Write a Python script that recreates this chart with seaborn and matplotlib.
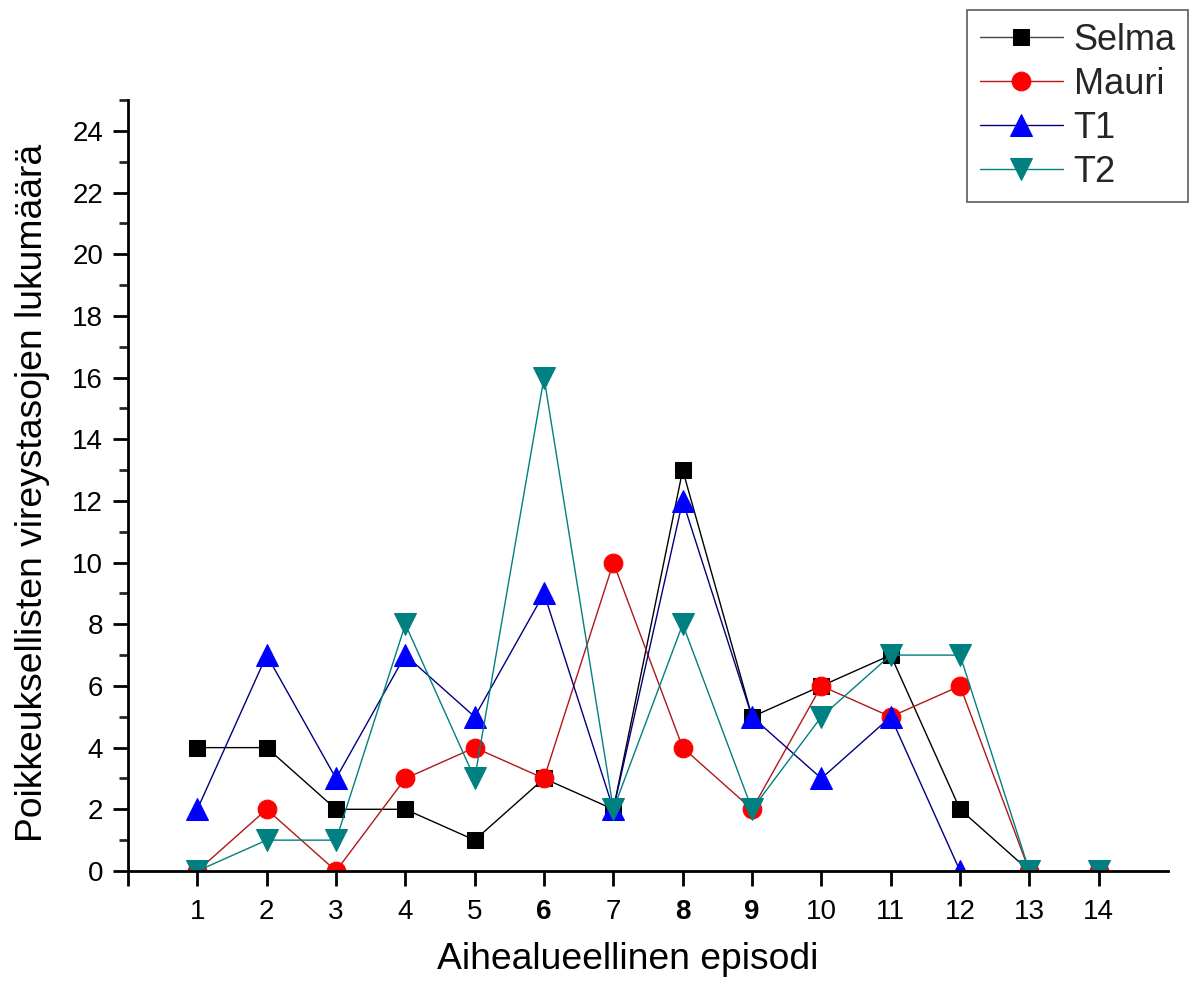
import matplotlib
matplotlib.use("Agg")
import matplotlib.pyplot as plt
import seaborn as sns
import pandas as pd
from matplotlib.ticker import MultipleLocator

episodes = list(range(1, 15))
selma = [4, 4, 2, 2, 1, 3, 2, 13, 5, 6, 7, 2, 0, 0]
mauri = [0, 2, 0, 3, 4, 3, 10, 4, 2, 6, 5, 6, 0, 0]
t1 = [2, 7, 3, 7, 5, 9, 2, 12, 5, 3, 5, 0, 0, 0]
t2 = [0, 1, 1, 8, 3, 16, 2, 8, 2, 5, 7, 7, 0, 0]
series_names = ["Selma", "Mauri", "T1", "T2"]
bold_ticks = [6, 8, 9]
xlabel = "Aihealueellinen episodi"
ylabel = "Poikkeuksellisten vireystasojen lukumäärä"

sns.set_theme(style="white")
plt.rcParams['font.family'] = ['Liberation Sans', 'DejaVu Sans']

fig = plt.figure(figsize=(11.92, 9.92), dpi=100)
ax = fig.add_axes([0.1074, 0.1220, 0.8725, 0.7772])

styles = [
    dict(marker="s", color="#000000", mfc="#000000", ms=12),
    dict(marker="o", color="#B01818", mfc="#FF0000", ms=13.5),
    dict(marker="^", color="#000080", mfc="#0000FF", ms=16),
    dict(marker="v", color="#008080", mfc="#008080", ms=15.5),
]
data = [selma, mauri, t1, t2]
for name, vals, st in zip(series_names, data, styles):
    df = pd.DataFrame({"x": episodes, "y": vals})
    sns.lineplot(data=df, x="x", y="y", ax=ax, color=st["color"], marker=st["marker"],
                 markerfacecolor=st["mfc"], markeredgecolor=st["mfc"],
                 markersize=st["ms"], linewidth=1.0, label=name, legend=False)

ax.set_xlim(0, 15)
ax.set_ylim(0, 25)
ax.set_xticks(range(0, 15))
ax.set_xticklabels([""] + [str(e) for e in episodes])
for lbl, e in zip(ax.get_xticklabels()[1:], episodes):
    if e in bold_ticks:
        lbl.set_fontweight("bold")
ax.yaxis.set_major_locator(MultipleLocator(2))
ax.yaxis.set_minor_locator(MultipleLocator(1))
ax.tick_params(axis="both", which="major", direction="out", length=11, width=2,
               labelsize=20, color="black", labelcolor="black", bottom=True, left=True)
ax.tick_params(axis="y", which="minor", direction="out", length=6.5, width=2, left=True)
ax.tick_params(axis="x", pad=9)
ax.tick_params(axis="y", pad=7)

for s in ["top", "right"]:
    ax.spines[s].set_visible(False)
for s in ["left", "bottom"]:
    ax.spines[s].set_color("black")
    ax.spines[s].set_linewidth(2)

ax.set_xlabel(xlabel, fontsize=26.8, color="black")
ax.set_ylabel(ylabel, fontsize=26.8, color="black")
ax.xaxis.label.set_va("baseline")
ax.xaxis.set_label_coords(0.48, -0.127)
ax.yaxis.set_label_coords(-0.075, 0.49)

handles, labels = ax.get_legend_handles_labels()
leg = fig.legend(handles, labels, loc="upper right", bbox_to_anchor=(0.997, 0.990),
                 fontsize=26, frameon=True, fancybox=False, edgecolor="#333333",
                 handlelength=2.3, handletextpad=0.3, labelspacing=0.25, borderpad=0.35,
                 borderaxespad=0.0)
leg.get_frame().set_linewidth(1.2)
leg.get_lines()[0].set_color("#444444")

fig.savefig("out.png", dpi=100, facecolor="white")
